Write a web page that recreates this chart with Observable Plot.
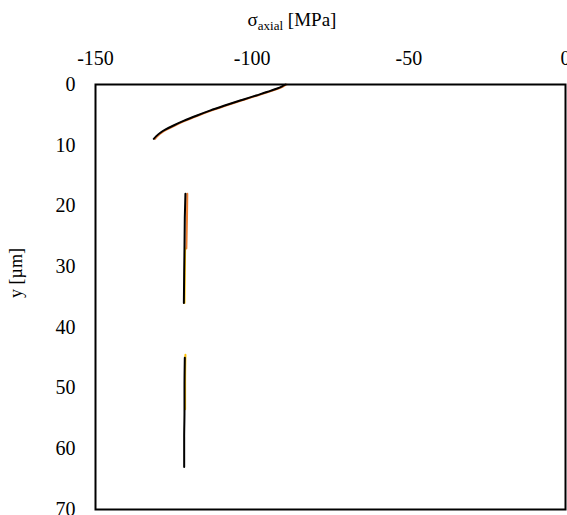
<!DOCTYPE html>
<html>
<head>
<meta charset="utf-8">
<script src="https://cdn.jsdelivr.net/npm/d3@7"></script>
<script src="https://cdn.jsdelivr.net/npm/@observablehq/plot@0.6"></script>
<style>
  html, body { margin: 0; padding: 0; background: #fff; }
  #chart { width: 567px; height: 515px; overflow: hidden; }
</style>
</head>
<body>
<div id="chart"></div>
<script>
// ---- data ----
const xTicks = [-150, -100, -50, 0];
const yTicks = [0, 10, 20, 30, 40, 50, 60, 70];

// near-surface curve (y in µm, sigma in MPa)
const curveY      = [0, 0.3, 0.7, 1.2, 1.8, 2.5, 3.5, 4.3, 5.1, 6.0, 6.75, 7.4, 7.9, 8.5, 8.95];
const curveBlackX = [-89.4, -90.45, -92.25, -95.05, -98.7, -103.0, -109.0, -113.5, -117.6, -121.9, -125.1, -127.6, -129.2, -130.6, -131.4];
const curveOrangeX= [-89.0, -90.05, -91.85, -94.65, -98.3, -102.6, -108.6, -113.1, -117.2, -121.5, -124.7, -127.2, -128.8, -130.2, -131.0];

// second segment
const seg2BlackY  = [18, 22, 27, 31, 36];
const seg2BlackX  = [-121.3, -121.5, -121.6, -121.7, -121.8];
const seg2OrangeY = [18, 22, 27];
const seg2OrangeX = [-120.7, -120.8, -121.0];
const seg2GoldY   = [27, 31, 36];
const seg2GoldX   = [-121.4, -121.5, -121.6];

// third segment
const seg3BlackY  = [45, 50, 54, 58, 63];
const seg3BlackX  = [-121.5, -121.6, -121.6, -121.7, -121.7];
const seg3GoldY   = [44.5, 49, 53.5];
const seg3GoldX   = [-121.3, -121.4, -121.4];

const seriesColors = { orange: "#ED7D31", gold: "#FFC000", black: "#000000" };

function rows(xs, ys, seg) { return xs.map((x, i) => ({ x, y: ys[i], seg })); }

const orangeData = [...rows(curveOrangeX, curveY, "a"), ...rows(seg2OrangeX, seg2OrangeY, "b")];
const goldData   = [...rows(seg2GoldX, seg2GoldY, "b"), ...rows(seg3GoldX, seg3GoldY, "c")];
const blackData  = [...rows(curveBlackX, curveY, "a"), ...rows(seg2BlackX, seg2BlackY, "b"), ...rows(seg3BlackX, seg3BlackY, "c")];

const fontFamily = "'Liberation Serif', 'Times New Roman', serif";

const plot = Plot.plot({
  width: 567,
  height: 515,
  marginLeft: 95,
  marginRight: 2,
  marginTop: 84,
  marginBottom: 6,
  style: { fontFamily, fontSize: "20px", color: "#000", background: "#fff", overflow: "visible" },
  x: { domain: [-150, 0] },
  y: { domain: [0, 70], reverse: true },
  marks: [
    Plot.axisX(xTicks, { anchor: "top", tickSize: 0, tickPadding: 20, label: null, tickFormat: d => String(d) }),
    Plot.axisY(yTicks, { anchor: "left", tickSize: 0, tickPadding: 20, label: null }),
    Plot.line(orangeData, { x: "x", y: "y", z: "seg", stroke: seriesColors.orange, strokeWidth: 2, curve: "monotone-y" }),
    Plot.line(goldData, { x: "x", y: "y", z: "seg", stroke: seriesColors.gold, strokeWidth: 2, curve: "monotone-y" }),
    Plot.line(blackData, { x: "x", y: "y", z: "seg", stroke: seriesColors.black, strokeWidth: 2, curve: "monotone-y" }),
    Plot.frame({ stroke: "#000", strokeWidth: 2 })
  ]
});

document.getElementById("chart").appendChild(plot);

const svg = d3.select(plot);
// x axis title with subscript
const title = svg.append("text")
  .attr("x", 292).attr("y", 26)
  .attr("text-anchor", "middle")
  .attr("font-family", fontFamily)
  .attr("font-size", 19)
  .attr("fill", "#000");
title.append("tspan").text("σ");
title.append("tspan").attr("font-size", 13).attr("dy", 4).text("axial");
title.append("tspan").attr("dy", -4).text(" [MPa]");

// y axis title
svg.append("text")
  .attr("transform", "translate(18,273) rotate(-90)")
  .attr("text-anchor", "middle")
  .attr("dominant-baseline", "middle")
  .attr("font-family", fontFamily)
  .attr("font-size", 18)
  .attr("fill", "#000")
  .text("y [µm]");
</script>
</body>
</html>
